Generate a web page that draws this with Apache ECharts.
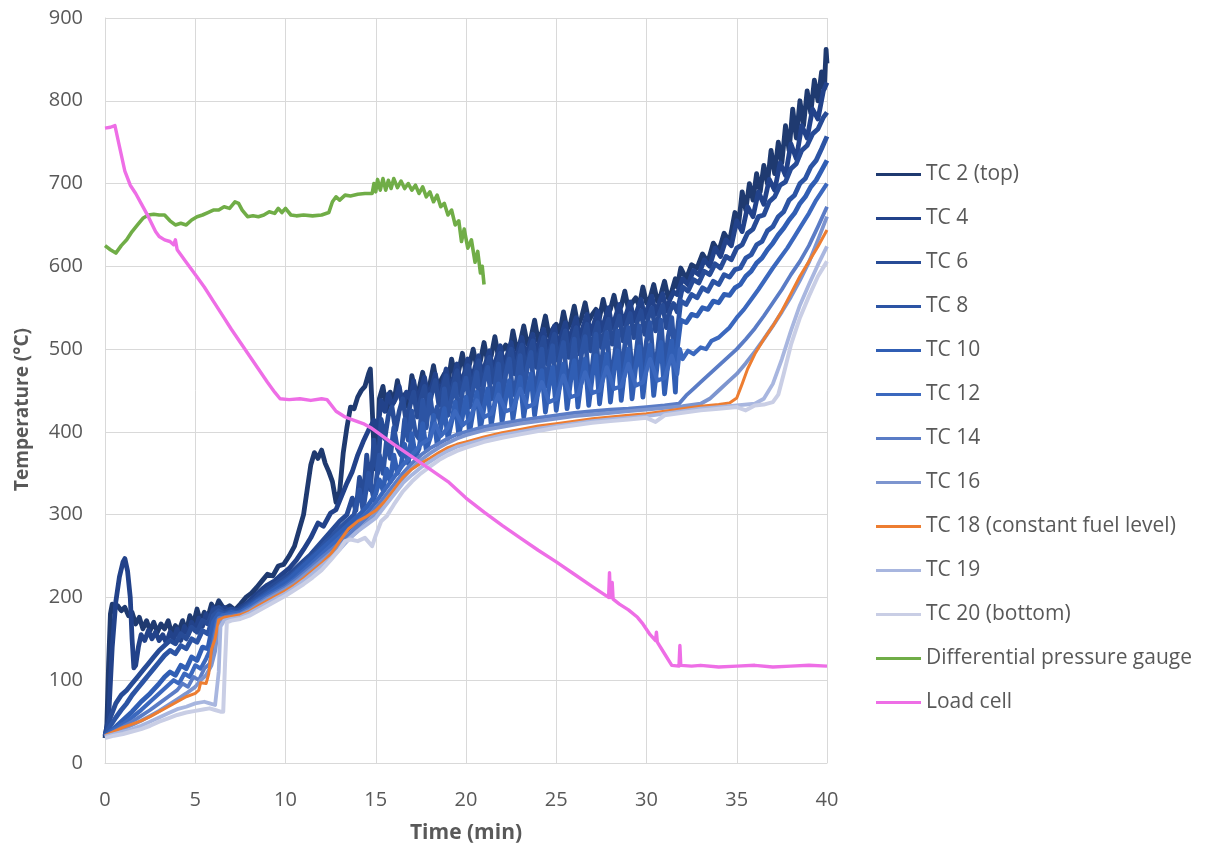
<!DOCTYPE html>
<html>
<head>
<meta charset="utf-8">
<script src="https://cdn.jsdelivr.net/npm/echarts@6/dist/echarts.min.js"></script>
<style>html,body{margin:0;padding:0;background:#fff}#chart{width:1208px;height:850px}</style>
</head>
<body>
<div id="chart"></div>
<script>
const seriesNames = ["TC 2 (top)","TC 4","TC 6","TC 8","TC 10","TC 12","TC 14","TC 16","TC 18 (constant fuel level)","TC 19","TC 20 (bottom)","Differential pressure gauge","Load cell"];
const xTicks = [0,5,10,15,20,25,30,35,40];
const yTicks = [0,100,200,300,400,500,600,700,800,900];

const tc2 = [[0,30],[0.1,45],[0.2,120],[0.3,180],[0.4,192],[0.5,186],[0.7,190],[0.9,184],[1.1,188],[1.3,178],[1.5,182],[1.7,168],[1.9,176],[2.1,162],[2.3,172],[2.5,160],[2.7,170],[2.9,158],[3.1,168],[3.3,162],[3.5,172],[3.7,156],[3.9,166],[4.1,160],[4.3,172],[4.5,158],[4.7,178],[4.9,168],[5.1,186],[5.3,170],[5.5,182],[5.7,176],[5.9,192],[6.1,184],[6.3,196],[6.6,186],[6.9,190],[7.2,185],[7.5,192],[7.8,200],[8.1,205],[8.4,212],[8.7,220],[9.0,228],[9.3,226],[9.6,238],[9.9,240],[10.2,250],[10.5,262],[10.8,285],[11.0,300],[11.2,330],[11.4,360],[11.6,375],[11.8,368],[12.0,378],[12.2,362],[12.4,352],[12.6,340],[12.8,315],[13.0,328],[13.2,375],[13.4,405],[13.6,430],[13.8,428],[14.0,442],[14.2,450],[14.4,455],[14.6,470],[14.7,476],[14.8,430],[14.9,380],[15.0,355],[15.1,380],[15.2,440],[15.4,455],[15.6,425],[15.8,448],[16.0,436],[16.2,462],[16.4,440],[16.6,445],[16.8,430],[17.0,468],[17.2,448],[17.4,452],[17.6,472],[17.8,450],[18.0,458],[18.2,480],[18.4,455],[18.6,462],[18.8,470],[19.0,458],[19.2,488],[19.4,468],[19.6,474],[19.8,495],[20.0,470],[20.2,482],[20.4,500],[20.6,478],[20.8,486],[21.0,508],[21.2,484],[21.4,492],[21.6,515],[21.8,490],[22.0,498],[22.2,505],[22.4,494],[22.6,522],[22.8,500],[23.0,508],[23.2,528],[23.4,506],[23.6,514],[23.8,535],[24.0,510],[24.2,520],[24.4,540],[24.6,516],[24.8,524],[25.0,530],[25.2,520],[25.4,545],[25.6,524],[25.8,532],[26.0,552],[26.2,528],[26.4,538],[26.6,556],[26.8,534],[27.0,542],[27.2,548],[27.4,538],[27.6,560],[27.8,540],[28.0,548],[28.2,565],[28.4,544],[28.6,552],[28.8,570],[29.0,548],[29.2,556],[29.4,562],[29.6,552],[29.8,575],[30.0,556],[30.2,562],[30.4,578],[30.6,558],[30.8,566],[31.0,582],[31.2,562],[31.4,570],[31.6,585],[31.7,575],[31.9,598],[32.2,585],[32.5,602],[32.8,598],[33.1,615],[33.4,605],[33.7,628],[34.0,618],[34.3,640],[34.6,630],[34.9,665],[35.1,650],[35.3,690],[35.5,668],[35.7,700],[35.9,680],[36.1,712],[36.3,690],[36.5,722],[36.7,700],[36.9,740],[37.1,712],[37.3,750],[37.5,725],[37.7,770],[37.9,740],[38.1,790],[38.3,755],[38.5,800],[38.7,770],[38.9,812],[39.1,785],[39.3,825],[39.5,800],[39.7,835],[39.85,815],[39.95,862],[40,845]];

const tc4 = [[0,32],[0.2,55],[0.4,140],[0.6,195],[0.8,225],[1.0,243],[1.1,247],[1.25,232],[1.4,200],[1.5,150],[1.6,115],[1.7,118],[1.85,140],[2.0,155],[2.2,148],[2.4,160],[2.6,150],[2.8,158],[3.0,148],[3.2,155],[3.4,145],[3.6,158],[3.8,150],[4.0,162],[4.2,148],[4.4,165],[4.6,155],[4.8,170],[5.0,160],[5.2,175],[5.4,165],[5.6,180],[5.8,172],[6.0,188],[6.3,182],[6.6,188],[6.9,184],[7.2,182],[7.5,188],[7.8,192],[8.1,198],[8.4,204],[8.7,210],[9.0,215],[9.4,220],[9.8,228],[10.2,235],[10.6,245],[11.0,258],[11.4,272],[11.8,290],[12.1,286],[12.5,302],[12.8,306],[13.1,322],[13.4,338],[13.7,352],[14.0,372],[14.3,388],[14.6,402],[14.9,414],[15.1,400],[15.3,438],[15.5,425],[15.7,446],[15.9,432],[16.1,440],[16.3,455],[16.5,430],[16.7,448],[16.9,440],[17.1,462],[17.3,436],[17.5,452],[17.7,466],[17.9,442],[18.1,455],[18.3,470],[18.5,448],[18.7,458],[18.9,476],[19.1,452],[19.3,465],[19.5,482],[19.7,458],[19.9,470],[20.1,488],[20.3,462],[20.5,478],[20.7,492],[20.9,468],[21.1,484],[21.3,498],[21.5,472],[21.7,490],[21.9,504],[22.1,480],[22.3,494],[22.5,508],[22.7,484],[22.9,500],[23.1,514],[23.3,490],[23.5,505],[23.7,518],[23.9,494],[24.1,510],[24.3,524],[24.5,500],[24.7,514],[24.9,528],[25.1,504],[25.3,518],[25.5,532],[25.7,508],[25.9,524],[26.1,538],[26.3,512],[26.5,528],[26.7,542],[26.9,518],[27.1,532],[27.3,546],[27.5,522],[27.7,536],[27.9,550],[28.1,526],[28.3,540],[28.5,554],[28.7,530],[28.9,544],[29.1,557],[29.3,534],[29.5,548],[29.7,560],[29.9,538],[30.1,552],[30.3,564],[30.5,542],[30.7,556],[30.9,567],[31.1,546],[31.3,560],[31.5,569],[31.7,566],[32.0,585],[32.3,578],[32.6,595],[32.9,590],[33.2,608],[33.5,600],[33.8,622],[34.1,612],[34.4,632],[34.7,625],[35.0,655],[35.3,642],[35.6,672],[35.9,660],[36.2,690],[36.5,675],[36.8,705],[37.1,692],[37.4,725],[37.7,710],[38.0,748],[38.3,730],[38.6,770],[38.9,755],[39.2,790],[39.5,778],[39.8,812],[40,822]];

const tc6 = [[0,33],[0.3,55],[0.6,72],[0.9,82],[1.2,88],[1.5,96],[1.8,104],[2.1,112],[2.4,120],[2.7,128],[3.0,136],[3.3,142],[3.6,148],[3.9,144],[4.2,156],[4.5,150],[4.8,164],[5.1,158],[5.4,172],[5.7,168],[6.0,185],[6.3,188],[6.6,182],[7.0,186],[7.4,184],[7.8,190],[8.2,196],[8.6,204],[9.0,210],[9.4,216],[9.8,222],[10.2,228],[10.6,236],[11.0,244],[11.4,252],[11.8,262],[12.2,272],[12.6,282],[13.0,292],[13.4,300],[13.7,320],[13.9,305],[14.1,345],[14.3,318],[14.5,372],[14.7,330],[14.9,390],[15.1,350],[15.3,415],[15.5,392],[15.7,420],[15.9,430],[16.1,402],[16.3,425],[16.5,440],[16.7,410],[16.9,432],[17.1,448],[17.3,418],[17.5,440],[17.7,455],[17.9,425],[18.1,446],[18.3,462],[18.5,432],[18.7,452],[18.9,468],[19.1,438],[19.3,458],[19.5,474],[19.7,444],[19.9,464],[20.1,480],[20.3,450],[20.5,470],[20.7,486],[20.9,455],[21.1,475],[21.3,490],[21.5,460],[21.7,480],[21.9,495],[22.1,465],[22.3,485],[22.5,500],[22.7,470],[22.9,490],[23.1,505],[23.3,474],[23.5,494],[23.7,510],[23.9,478],[24.1,498],[24.3,514],[24.5,482],[24.7,502],[24.9,518],[25.1,486],[25.3,506],[25.5,522],[25.7,490],[25.9,510],[26.1,526],[26.3,494],[26.5,514],[26.7,530],[26.9,498],[27.1,518],[27.3,532],[27.5,502],[27.7,522],[27.9,536],[28.1,506],[28.3,526],[28.5,540],[28.7,510],[28.9,530],[29.1,543],[29.3,514],[29.5,534],[29.7,546],[29.9,518],[30.1,538],[30.3,550],[30.5,522],[30.7,542],[30.9,553],[31.1,526],[31.3,546],[31.5,555],[31.7,545],[32.0,575],[32.3,570],[32.6,584],[32.9,580],[33.2,594],[33.5,590],[33.8,603],[34.1,598],[34.4,612],[34.7,608],[35.0,622],[35.3,626],[35.6,640],[35.9,645],[36.2,660],[36.5,662],[36.8,678],[37.1,684],[37.4,698],[37.7,702],[38.0,718],[38.3,724],[38.6,740],[38.9,746],[39.2,760],[39.5,766],[39.8,780],[40,786]];

const tc8 = [[0,33],[0.3,45],[0.6,55],[0.9,64],[1.2,72],[1.5,82],[1.8,90],[2.1,98],[2.4,106],[2.7,114],[3.0,122],[3.3,130],[3.6,136],[3.9,132],[4.2,142],[4.5,138],[4.8,150],[5.1,146],[5.4,160],[5.7,156],[6.0,178],[6.3,184],[6.6,180],[7.0,183],[7.4,182],[7.8,188],[8.2,194],[8.6,200],[9.0,206],[9.4,212],[9.8,218],[10.2,224],[10.6,232],[11.0,240],[11.4,248],[11.8,256],[12.2,266],[12.6,274],[13.0,284],[13.4,292],[13.8,300],[14.1,330],[14.3,305],[14.6,350],[14.9,318],[15.2,372],[15.4,350],[15.6,390],[15.8,368],[16.0,405],[16.2,380],[16.4,372],[16.6,415],[16.8,390],[17.0,425],[17.2,398],[17.4,392],[17.6,438],[17.8,405],[18.0,445],[18.2,412],[18.4,430],[18.6,408],[18.8,452],[19.0,420],[19.2,440],[19.4,458],[19.6,418],[19.8,448],[20.0,465],[20.2,430],[20.4,452],[20.6,472],[20.8,428],[21.0,460],[21.2,478],[21.4,440],[21.6,455],[21.8,482],[22.0,436],[22.2,470],[22.4,488],[22.6,445],[22.8,462],[23.0,492],[23.2,448],[23.4,478],[23.6,496],[23.8,442],[24.0,470],[24.2,500],[24.4,455],[24.6,482],[24.8,504],[25.0,450],[25.2,488],[25.4,508],[25.6,460],[25.8,475],[26.0,512],[26.2,456],[26.4,494],[26.6,515],[26.8,465],[27.0,480],[27.2,518],[27.4,462],[27.6,500],[27.8,520],[28.0,470],[28.2,486],[28.4,522],[28.6,466],[28.8,505],[29.0,526],[29.2,474],[29.4,490],[29.6,528],[29.8,470],[30.0,510],[30.2,532],[30.4,478],[30.6,495],[30.8,535],[31.0,475],[31.2,515],[31.4,538],[31.6,482],[31.7,520],[31.9,558],[32.2,554],[32.5,566],[32.8,562],[33.1,574],[33.4,570],[33.7,582],[34.0,578],[34.3,590],[34.6,587],[34.9,596],[35.2,598],[35.5,610],[35.8,614],[36.1,626],[36.4,630],[36.7,643],[37.0,648],[37.3,660],[37.6,666],[37.9,680],[38.2,686],[38.5,700],[38.8,706],[39.1,720],[39.4,728],[39.7,742],[40,757]];

const tc10 = [[0,33],[0.5,42],[1.0,52],[1.5,62],[2.0,74],[2.5,84],[3.0,96],[3.3,104],[3.6,110],[3.9,106],[4.2,118],[4.5,114],[4.8,128],[5.1,124],[5.4,140],[5.7,138],[6.0,170],[6.3,180],[6.6,178],[7.0,182],[7.4,180],[7.8,186],[8.2,192],[8.6,198],[9.0,204],[9.4,210],[9.8,216],[10.2,222],[10.6,230],[11.0,238],[11.4,246],[11.8,254],[12.2,262],[12.6,270],[13.0,278],[13.4,286],[13.8,294],[14.2,302],[14.6,312],[15.0,325],[15.2,342],[15.4,330],[15.6,355],[15.8,340],[16.0,372],[16.2,350],[16.4,360],[16.6,385],[16.8,362],[17.0,398],[17.2,370],[17.4,380],[17.6,410],[17.8,378],[18.0,392],[18.2,420],[18.4,385],[18.6,405],[18.8,428],[19.0,392],[19.2,412],[19.4,436],[19.6,396],[19.8,418],[20.0,442],[20.2,400],[20.4,425],[20.6,448],[20.8,404],[21.0,430],[21.2,452],[21.4,408],[21.6,436],[21.8,458],[22.0,412],[22.2,440],[22.4,462],[22.6,415],[22.8,444],[23.0,466],[23.2,418],[23.4,448],[23.6,470],[23.8,420],[24.0,452],[24.2,474],[24.4,424],[24.6,455],[24.8,478],[25.0,426],[25.2,458],[25.4,482],[25.6,428],[25.8,462],[26.0,486],[26.2,430],[26.4,465],[26.6,488],[26.8,432],[27.0,468],[27.2,492],[27.4,434],[27.6,470],[27.8,494],[28.0,436],[28.2,474],[28.4,498],[28.6,438],[28.8,476],[29.0,500],[29.2,440],[29.4,478],[29.6,503],[29.8,442],[30.0,480],[30.2,505],[30.4,444],[30.6,482],[30.8,508],[31.0,446],[31.2,485],[31.4,510],[31.6,448],[31.7,500],[31.9,535],[32.2,532],[32.5,542],[32.8,540],[33.1,550],[33.4,548],[33.7,558],[34.0,556],[34.3,566],[34.6,565],[34.9,574],[35.2,578],[35.5,588],[35.8,594],[36.1,604],[36.4,610],[36.7,620],[37.0,628],[37.3,638],[37.6,646],[37.9,656],[38.2,664],[38.5,676],[38.8,684],[39.1,696],[39.4,704],[39.7,716],[40,728]];

const tc12 = [[0,32],[0.5,40],[1.0,47],[1.5,55],[2.0,64],[2.5,74],[3.0,84],[3.5,94],[3.8,100],[4.1,96],[4.4,108],[4.7,104],[5.0,118],[5.3,114],[5.6,126],[5.9,140],[6.2,172],[6.5,178],[7.0,180],[7.5,182],[8.0,188],[8.5,196],[9.0,202],[9.5,208],[10.0,214],[10.5,222],[11.0,232],[11.5,242],[12.0,252],[12.5,262],[13.0,272],[13.5,282],[14.0,292],[14.5,302],[15.0,315],[15.5,330],[16.0,345],[16.5,360],[17.0,372],[17.5,385],[18.0,392],[18.3,410],[18.6,395],[19.0,405],[19.4,425],[19.8,408],[20.2,415],[20.6,438],[21.0,418],[21.4,422],[21.8,445],[22.2,425],[22.6,428],[23.0,452],[23.4,430],[23.8,434],[24.2,460],[24.6,436],[25.0,440],[25.4,468],[25.8,442],[26.2,445],[26.6,472],[27.0,447],[27.4,450],[27.8,478],[28.2,452],[28.6,455],[29.0,482],[29.4,456],[29.8,460],[30.2,488],[30.6,462],[31.0,465],[31.4,492],[31.7,470],[31.85,500],[32.0,488],[32.3,498],[32.6,494],[33.0,502],[33.3,500],[33.6,510],[34.0,514],[34.3,520],[34.6,526],[35.0,538],[35.4,548],[35.8,560],[36.2,572],[36.6,585],[37.0,598],[37.4,610],[37.8,622],[38.2,636],[38.6,650],[39.0,664],[39.4,680],[39.7,690],[40,700]];

const tc14 = [[0,32],[0.5,38],[1.0,44],[1.5,50],[2.0,57],[2.5,64],[3.0,72],[3.5,80],[4.0,88],[4.3,96],[4.6,92],[4.9,104],[5.2,100],[5.5,114],[5.8,120],[6.1,155],[6.3,175],[6.6,176],[7.0,178],[7.5,180],[8.0,186],[8.5,193],[9.0,200],[9.5,206],[10.0,212],[10.5,220],[11.0,229],[11.5,238],[12.0,248],[12.5,257],[13.0,266],[13.5,276],[14.0,286],[14.5,296],[15.0,308],[15.5,322],[16.0,336],[16.5,350],[17.0,362],[17.5,372],[18.0,380],[18.5,386],[19.0,392],[19.5,397],[20.0,400],[20.5,403],[21.0,406],[22.0,410],[23.0,414],[24.0,417],[25.0,420],[26.0,423],[27.0,425],[28.0,427],[29.0,428],[30.0,430],[31.0,432],[31.8,434],[32.2,444],[32.6,452],[33.0,460],[33.5,470],[34.0,480],[34.5,490],[35.0,500],[35.5,512],[36.0,525],[36.5,540],[37.0,556],[37.5,572],[38.0,590],[38.5,606],[39.0,625],[39.5,648],[40,672]];

const tc16 = [[0,32],[0.5,36],[1.0,41],[1.5,46],[2.0,51],[2.5,57],[3.0,63],[3.5,70],[4.0,77],[4.5,84],[5.0,92],[5.3,100],[5.6,106],[5.9,118],[6.1,135],[6.3,168],[6.6,174],[7.0,176],[7.5,179],[8.0,184],[8.5,191],[9.0,198],[9.5,204],[10.0,210],[10.5,217],[11.0,226],[11.5,235],[12.0,244],[12.5,253],[13.0,262],[13.5,271],[14.0,280],[14.5,290],[15.0,302],[15.5,316],[16.0,330],[16.5,344],[17.0,356],[17.5,366],[18.0,374],[18.5,381],[19.0,387],[19.5,392],[20.0,396],[21.0,402],[22.0,406],[23.0,410],[24.0,413],[25.0,416],[26.0,419],[27.0,421],[28.0,423],[29.0,425],[30.0,427],[31.0,429],[32.0,431],[33.0,434],[33.5,440],[34.0,450],[34.5,460],[35.0,470],[35.5,483],[36.0,497],[36.5,512],[37.0,528],[37.5,545],[38.0,563],[38.5,583],[39.0,605],[39.5,632],[40,660]];

const tc18 = [[0,33],[0.5,38],[1.0,43],[1.5,47],[2.0,51],[2.5,56],[3.0,62],[3.5,68],[4.0,74],[4.5,80],[5.0,84],[5.2,88],[5.3,97],[5.6,96],[5.75,108],[5.9,137],[6.1,150],[6.3,173],[6.6,176],[7.0,177],[7.5,179],[8.0,183],[8.5,190],[9.0,196],[9.5,202],[10.0,208],[10.5,215],[11.0,223],[11.5,232],[12.0,241],[12.5,252],[13.0,268],[13.5,283],[14.0,292],[14.5,298],[15.0,305],[15.5,316],[16.0,330],[16.5,345],[17.0,355],[17.5,362],[18.0,368],[18.5,375],[19.0,381],[19.5,385],[20.0,388],[21.0,394],[22.0,399],[23.0,403],[24.0,407],[25.0,410],[26.0,413],[27.0,416],[28.0,418],[29.0,420],[30.0,422],[31.0,425],[32.0,428],[33.0,431],[34.0,433],[34.6,435],[35.0,441],[35.3,458],[35.6,476],[36.0,494],[36.5,512],[37.0,528],[37.5,546],[38.0,567],[38.5,588],[39.0,606],[39.5,624],[40,644]];

const tc19 = [[0,32],[0.5,35],[1.0,38],[1.5,41],[2.0,45],[2.5,50],[3.0,55],[3.5,60],[4.0,65],[4.5,68],[5.0,72],[5.5,74],[5.8,72],[6.1,70],[6.3,110],[6.4,165],[6.6,172],[7.0,174],[7.5,176],[8.0,181],[8.5,187],[9.0,193],[9.5,199],[10.0,205],[10.5,212],[11.0,220],[11.5,229],[12.0,238],[12.5,247],[13.0,258],[13.5,270],[14.0,280],[14.5,288],[15.0,296],[15.5,310],[16.0,324],[16.5,338],[17.0,348],[17.5,357],[18.0,364],[18.5,371],[19.0,377],[19.5,382],[20.0,385],[21.0,391],[22.0,396],[23.0,400],[24.0,404],[25.0,407],[26.0,410],[27.0,413],[28.0,415],[29.0,417],[30.0,419],[31.0,422],[32.0,425],[33.0,428],[34.0,430],[35.0,432],[36.0,434],[36.5,440],[37.0,458],[37.5,488],[38.0,522],[38.5,553],[39.0,578],[39.5,602],[40,624]];

const tc20 = [[0,30],[0.5,33],[1.0,35],[1.5,38],[2.0,41],[2.5,45],[3.0,50],[3.5,54],[4.0,58],[4.5,61],[5.0,63],[5.5,65],[5.8,66],[6.1,64],[6.4,62],[6.55,62],[6.65,120],[6.75,170],[7.0,172],[7.5,174],[8.0,178],[8.5,184],[9.0,190],[9.5,196],[10.0,202],[10.5,209],[11.0,216],[11.5,224],[12.0,233],[12.5,245],[13.0,258],[13.3,268],[13.6,270],[14.0,268],[14.4,272],[14.8,262],[15.0,275],[15.3,292],[15.6,298],[16.0,312],[16.5,328],[17.0,340],[17.5,350],[18.0,358],[18.5,366],[19.0,372],[19.5,377],[20.0,381],[21.0,388],[22.0,393],[23.0,397],[24.0,401],[25.0,405],[26.0,408],[27.0,411],[28.0,413],[29.0,415],[30.0,417],[30.5,412],[31.0,420],[32.0,423],[33.0,426],[34.0,428],[35.0,430],[35.5,426],[36.0,432],[36.5,433],[37.0,436],[37.3,445],[37.6,470],[38.0,505],[38.5,538],[39.0,564],[39.5,588],[40,606]];

const dpGauge = [[0,625],[0.3,620],[0.6,616],[0.9,625],[1.2,632],[1.5,642],[1.8,650],[2.1,658],[2.4,662],[2.7,663],[3.0,662],[3.3,662],[3.6,655],[3.9,650],[4.2,652],[4.5,650],[4.8,656],[5.1,660],[5.4,662],[5.7,665],[6.0,668],[6.3,668],[6.6,672],[6.9,670],[7.2,678],[7.4,676],[7.6,668],[7.9,660],[8.2,661],[8.5,660],[8.8,662],[9.1,666],[9.4,664],[9.6,670],[9.8,665],[10.0,670],[10.3,662],[10.6,661],[11.0,662],[11.5,661],[12.0,662],[12.4,665],[12.6,678],[12.8,684],[13.0,680],[13.3,686],[13.6,685],[14.0,687],[14.4,688],[14.8,688],[14.9,700],[15.0,690],[15.1,705],[15.25,692],[15.4,706],[15.55,692],[15.7,704],[15.85,694],[16.0,706],[16.2,695],[16.4,703],[16.6,694],[16.8,700],[17.0,692],[17.2,698],[17.4,688],[17.6,696],[17.8,684],[18.0,690],[18.2,678],[18.4,686],[18.6,672],[18.8,676],[19.0,662],[19.2,668],[19.4,650],[19.6,655],[19.75,630],[19.9,645],[20.1,622],[20.3,632],[20.5,605],[20.65,618],[20.8,592],[20.9,600],[21.0,578]];

const loadCell = [[0,767],[0.3,768],[0.55,770],[0.8,745],[1.1,715],[1.4,698],[1.7,688],[2.0,676],[2.4,660],[2.8,642],[3.0,636],[3.3,632],[3.6,630],[3.8,626],[3.9,632],[4.0,620],[4.5,605],[5.0,590],[5.5,575],[6.0,558],[6.5,541],[7.0,524],[7.5,508],[8.0,492],[8.5,476],[9.0,460],[9.4,448],[9.7,440],[10.2,439],[10.8,440],[11.4,438],[12.0,440],[12.3,439],[12.8,425],[13.3,418],[13.8,414],[14.3,410],[14.8,404],[15.3,396],[16,385],[17,370],[18,355],[19,340],[20,320],[21,303],[22,287],[23,272],[24,257],[25,243],[26,228],[27,213],[27.9,200],[27.95,230],[28.0,200],[28.1,218],[28.15,198],[28.5,192],[29.0,185],[29.5,176],[29.8,168],[30.2,155],[30.5,148],[30.55,158],[30.6,146],[31.0,132],[31.4,118],[31.8,117],[31.85,142],[31.9,118],[32.5,117],[33,118],[34,116],[35,117],[36,118],[37,116],[38,117],[39,118],[40,117]];

const allData = [tc2,tc4,tc6,tc8,tc10,tc12,tc14,tc16,tc18,tc19,tc20,dpGauge,loadCell];
const colors = ["#1f3a70","#22428a","#274b96","#2c54a4","#305eb4","#3b68be","#5a7cc6","#7d95cf","#ed7d31","#a8b6df","#c9cee5","#70ad47","#ee6ee6"];
const widths = [4.8,4.8,4.8,4.8,4.8,4.2,3.8,3.8,3,3.8,4,3.6,3.4];

const chart = echarts.init(document.getElementById('chart'), null, {renderer:'canvas'});
const FONT = "'Open Sans', 'Noto Sans', sans-serif";
const series = seriesNames.map((n,i)=>({
  name:n, type:'line', data:allData[i], showSymbol:false, symbol:'none',
  lineStyle:{width:widths[i],color:colors[i],join:'round'}, itemStyle:{color:colors[i]},
  animation:false
}));
chart.setOption({
  animation:false,
  backgroundColor:'#fff',
  grid:{left:105,right:381,top:18,bottom:87,containLabel:false},
  xAxis:{type:'value',min:0,max:40,interval:5,
    name:'Time (min)',nameLocation:'middle',nameGap:60,
    nameTextStyle:{fontFamily:FONT,fontSize:21,fontWeight:'bold',color:'#595959'},
    axisLine:{show:true,lineStyle:{color:'#d9d9d9',width:1}},
    axisTick:{show:false},
    axisLabel:{fontFamily:FONT,fontSize:20,color:'#595959',margin:27},
    splitLine:{show:true,lineStyle:{color:'#d9d9d9',width:1}}},
  yAxis:{type:'value',min:0,max:900,interval:100,
    name:'Temperature (°C)',nameLocation:'middle',nameGap:73,nameRotate:90,
    nameTextStyle:{fontFamily:FONT,fontSize:19,fontWeight:'bold',color:'#595959',padding:[0,38,0,0]},
    axisLine:{show:true,lineStyle:{color:'#d9d9d9',width:1}},
    axisTick:{show:false},
    axisLabel:{fontFamily:FONT,fontSize:20,color:'#595959',margin:22},
    splitLine:{show:true,lineStyle:{color:'#d9d9d9',width:1}}},
  legend:{orient:'vertical',left:871,top:159,itemWidth:45,itemHeight:3,itemGap:23,
    icon:'rect',data:seriesNames,
    textStyle:{fontFamily:FONT,fontSize:21,color:'#595959'}},
  series:series
});
</script>
</body>
</html>
